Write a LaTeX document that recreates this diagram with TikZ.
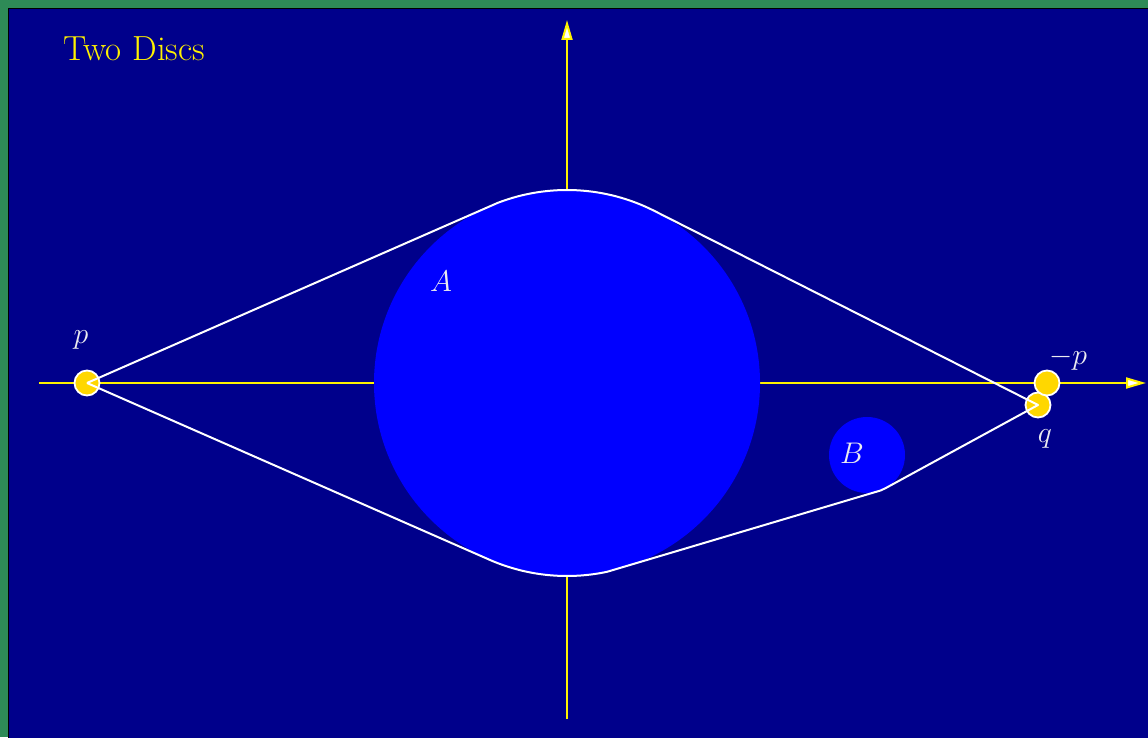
\documentclass[tikz,border=0pt]{standalone}
\usetikzlibrary{arrows.meta,calc}
\definecolor{bggreen}{RGB}{46,139,87}
\definecolor{navybg}{RGB}{0,0,139}
\definecolor{discblue}{RGB}{0,0,255}
\definecolor{ptgold}{RGB}{255,215,0}
\definecolor{labelgray}{RGB}{235,235,240}
\newcommand{\bigtxt}[1]{\scalebox{1.2}{\Huge #1}}
\newcommand{\titletxt}[1]{\scalebox{1.4}{\Huge #1}}
\tikzset{
  axis/.style={draw=yellow, line width=2pt, -{Triangle[length=20pt,width=11pt,fill=white]}},
  disc/.style={circle, fill=discblue, inner sep=0pt, draw=none},
  pt/.style={circle, fill=ptgold, draw=white, line width=1.8pt, minimum size=25pt, inner sep=0pt},
  hull/.style={draw=white, line width=2pt, line join=round},
  lbl/.style={text=labelgray, inner sep=0pt},
  ttl/.style={text=yellow, inner sep=0pt}
}
\begin{document}
\begin{tikzpicture}[x=1pt,y=1pt]
\useasboundingbox (0,0) rectangle (1148,737);
\fill[bggreen] (0,0) rectangle (1148,737);
\begin{scope}
\clip (0,0) rectangle (1148,737);
\draw[fill=navybg, draw=black, line width=1.2pt] (8.5,-10) rectangle (1160,728.5);
\end{scope}
% axes
\coordinate (xs) at (39,354);
\coordinate (xe) at (1146,354);
\coordinate (ys) at (567,18);
\coordinate (ye) at (567,717);
\draw[axis] (xs) -- (xe);
\draw[axis] (ys) -- (ye);
% discs
\node[disc, minimum size=386pt] (A) at (567,354) {};
\node[disc, minimum size=76pt] (B) at (867,282) {};
% points
\node[pt] (q) at (1038,332) {};
\node[pt] (mp) at (1047,354) {};
\node[pt] (p) at (87,354) {};
% hull
\coordinate (Ac) at (567,354);
\coordinate (Bc) at (867,282);
\coordinate (t1) at ($(Ac)+(111:193)$);
\coordinate (t3) at ($(Bc)+(-61.4:38)$);
\coordinate (t5) at ($(Ac)+(-78:193)$);
\draw[hull] (p.center) -- (t1) arc[start angle=111, end angle=63.1, radius=193]
  -- (q.center) -- (t3) arc[start angle=-61.4, end angle=-78, radius=38]
  -- (t5) arc[start angle=-78, end angle=-113.3, radius=193] -- (p.center);
% labels
\node[ttl] (title) at (134,688) {\titletxt{Two Discs}};
\node[lbl] (plbl) at (81,397) {\bigtxt{$p$}};
\node[lbl] (mplbl) at (1068,378) {\bigtxt{$-p$}};
\node[lbl] (qlbl) at (1045,298) {\bigtxt{$q$}};
\node[lbl] (Albl) at (441,456) {\bigtxt{$A$}};
\node[lbl] (Blbl) at (852,284) {\bigtxt{$B$}};
\end{tikzpicture}
\end{document}
